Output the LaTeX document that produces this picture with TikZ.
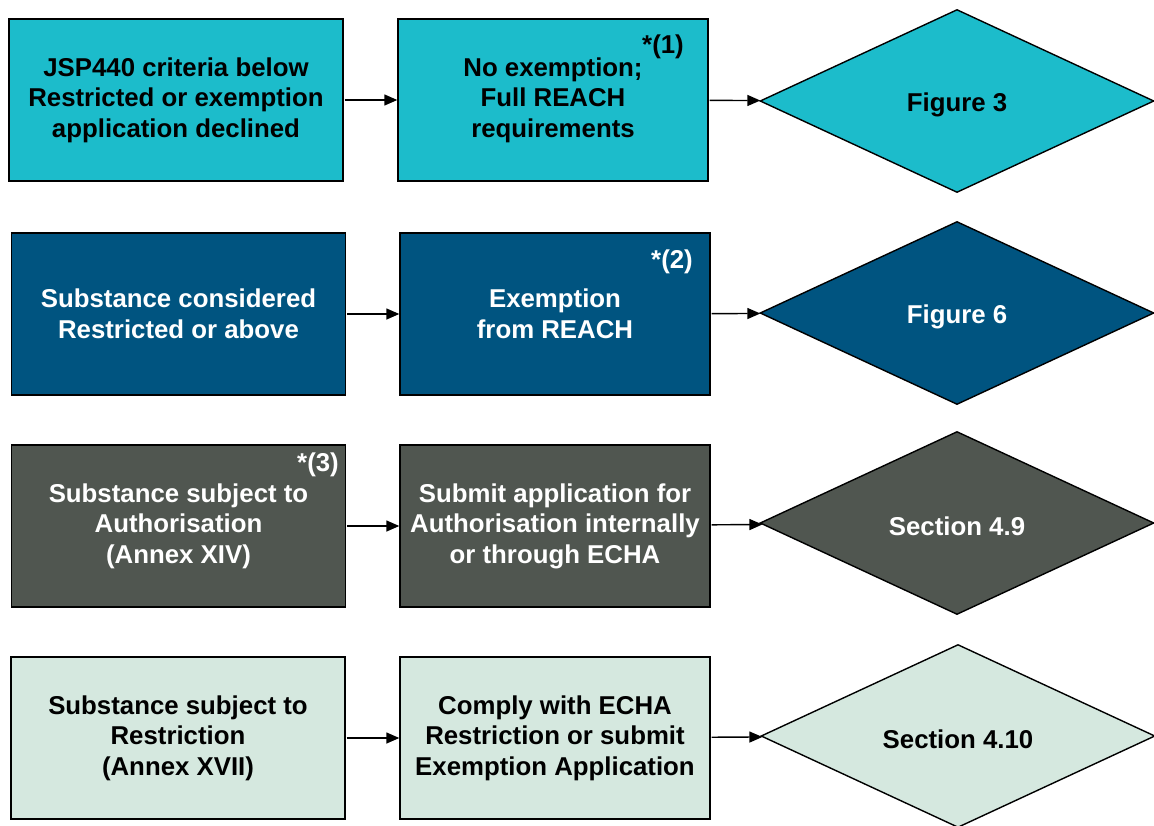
\documentclass[tikz,border=0pt]{standalone}
\usepackage{fontspec}
\setmainfont{Liberation Sans}
\usetikzlibrary{shapes.geometric,arrows.meta}
\definecolor{cteal}{RGB}{28,188,203}
\definecolor{cblue}{RGB}{0,84,128}
\definecolor{cgray}{RGB}{80,86,80}
\definecolor{clight}{RGB}{213,232,223}
\tikzset{
  base/.style={draw=black, line width=1.4pt, font=\fontsize{25.8}{30.5}\selectfont\bfseries, align=center, inner sep=0pt,
    execute at begin node={\rule{0pt}{25.5pt}}},
  box/.style={base, rectangle, minimum height=162pt},
  wide/.style={box, minimum width=334pt},
  mid/.style={box, minimum width=310pt},
  dia/.style={base, diamond, minimum width=394pt, minimum height=183pt},
  r1/.style={fill=cteal, text=black},
  r2/.style={fill=cblue, text=white},
  r3/.style={fill=cgray, text=white},
  r4/.style={fill=clight, text=black},
  star/.style={font=\fontsize{25.8}{28}\selectfont\bfseries, inner sep=0pt},
  conn/.style={line width=1.4pt, -{Triangle[length=13pt,width=11pt]}, shorten <=1pt},
}
\begin{document}
\begin{tikzpicture}[x=1pt,y=-1pt]
\useasboundingbox (0,0) rectangle (1154,825);
% row 1
\node[wide,r1] (a1) at (176,100) {JSP440 criteria below\\Restricted or exemption\\application declined};
\node[mid,r1] (b1) at (553,100) {No exemption;\\Full REACH\\requirements};
\node[dia,r1] (c1) at (957,101) {Figure 3};
\node[star,text=black] (s1) at (663,47) {*(1)};
% row 2
\node[wide,r2] (a2) at (178.5,314) {Substance considered\\Restricted or above};
\node[mid,r2] (b2) at (555,314) {Exemption\\from REACH};
\node[dia,r2] (c2) at (957,313) {Figure 6};
\node[star,text=white] (s2) at (672,262) {*(2)};
% row 3
\node[wide,r3] (a3) at (178.5,526) {Substance subject to\\Authorisation\\(Annex XIV)};
\node[mid,r3] (b3) at (555,526) {Submit application for\\Authorisation internally\\or through ECHA};
\node[dia,r3] (c3) at (957,523) {Section 4.9};
\node[star,text=white] (s3) at (318,465) {*(3)};
% row 4
\node[wide,r4] (a4) at (178,738) {Substance subject to\\Restriction\\(Annex XVII)};
\node[mid,r4] (b4) at (555,738) {Comply with ECHA\\Restriction or submit\\Exemption Application};
\node[dia,r4] (c4) at (958,736) {Section 4.10};
% connectors
\foreach \i in {1,2,3,4}{
  \draw[conn] (a\i) -- (b\i);
  \draw[conn] (b\i) -- (c\i);
}
\end{tikzpicture}
\end{document}
